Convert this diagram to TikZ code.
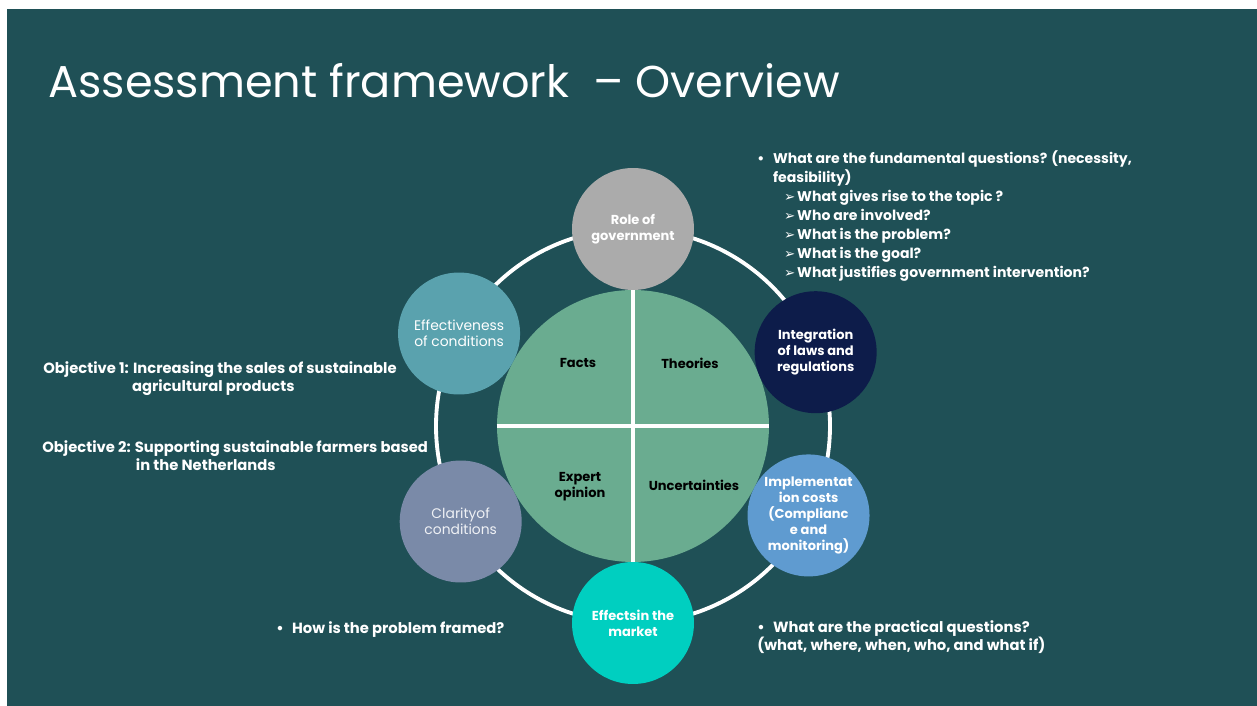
\documentclass[tikz,border=0pt]{standalone}
\usepackage{fontspec}
\setmainfont{Poppins}
\newfontfamily\arrowfont{DejaVu Sans}
\definecolor{slidebg}{RGB}{31,80,86}
\definecolor{piegreen}{RGB}{106,172,144}
\definecolor{govgray}{RGB}{171,171,171}
\definecolor{effteal}{RGB}{90,162,174}
\definecolor{lawnavy}{RGB}{13,28,74}
\definecolor{costblue}{RGB}{95,155,208}
\definecolor{marketcyan}{RGB}{0,207,192}
\definecolor{claritygray}{RGB}{122,138,168}
\newcommand{\subarrow}{\hspace*{15.3pt}\makebox[7.4pt][l]{\arrowfont\fontsize{7.6}{9}\selectfont ➢}}
\begin{document}
\begin{tikzpicture}[x=0.02cm,y=0.02cm]
\tikzstyle{every node}=[inner sep=0pt, text=white, align=center, font=\fontsize{7.4}{9}\selectfont\bfseries]
\tikzstyle{ball}=[circle, minimum size=2.44cm]
\tikzstyle{note}=[anchor=north west, align=left, font=\fontsize{8}{10.8}\selectfont\bfseries]
\tikzstyle{bignote}=[note, font=\fontsize{8.4}{10.6}\selectfont\bfseries]
\fill[white] (0,0) rectangle (1257,706);
\fill[slidebg] (7,0) rectangle (1257,697);
\useasboundingbox (0,0) rectangle (1257,706);
\node (title) [anchor=base west, font=\fontsize{25.4}{30}\selectfont] at (48,608) {Assessment framework\ \ – Overview};
\draw[white, line width=2.2pt] (633,280) circle (197);
\node (pie) [circle, fill=piegreen, minimum size=5.44cm] at (633,280) {};
\draw[white, line width=2.3pt] (pie.north) -- (pie.south);
\draw[white, line width=2.3pt] (pie.west) -- (pie.east);
\node (facts) [text=black] at (578,343) {Facts};
\node (theories) [text=black] at (690,343) {Theories};
\node (expert) [text=black] at (580,219) {Expert\\opinion};
\node (uncert) [text=black] at (694,221) {Uncertainties};
\begin{scope}[shift={(633,280)}]
\draw (90:197) node (gov) [ball,fill=govgray] {Role of\\government};
\draw (22:197) node (laws) [ball,fill=lawnavy] {Integration\\of laws and\\regulations};
\draw (-27:197) node (costs) [ball,fill=costblue] {Implementat\\ion costs\\(Complianc\\e and\\monitoring)};
\draw (270:197) node (market) [ball,fill=marketcyan] {Effectsin the\\market};
\draw (209:197) node (clarity) [ball,fill=claritygray,text=white!88!claritygray,font=\fontsize{7.9}{9}\selectfont] {Clarityof\\conditions};
\draw (152:197) node (effect) [ball,fill=effteal,font=\fontsize{7.9}{9}\selectfont] {Effectiveness\\of conditions};
\end{scope}
\node (fund) [note] at (757,556) {\makebox[9pt][l]{•}What are the fundamental questions? (necessity,\\
\hspace*{9pt}feasibility)\\
\subarrow What gives rise to the topic ?\\
\subarrow Who are involved?\\
\subarrow What is the problem?\\
\subarrow What is the goal?\\
\subarrow What justifies government intervention?};
\node (obj1) [bignote] at (43,345) {Objective 1: Increasing the sales of sustainable\\
\hspace*{50.5pt}agricultural products};
\node (obj2) [bignote] at (42,266) {Objective 2: Supporting sustainable farmers based\\
\hspace*{53.3pt}in the Netherlands};
\node (framed) [bignote] at (276,85) {\makebox[9pt][l]{•}How is the problem framed?};
\node (practical) [bignote] at (757,86) {\makebox[9pt][l]{•}What are the practical questions?\\
(what, where, when, who, and what if)};
\end{tikzpicture}
\end{document}
